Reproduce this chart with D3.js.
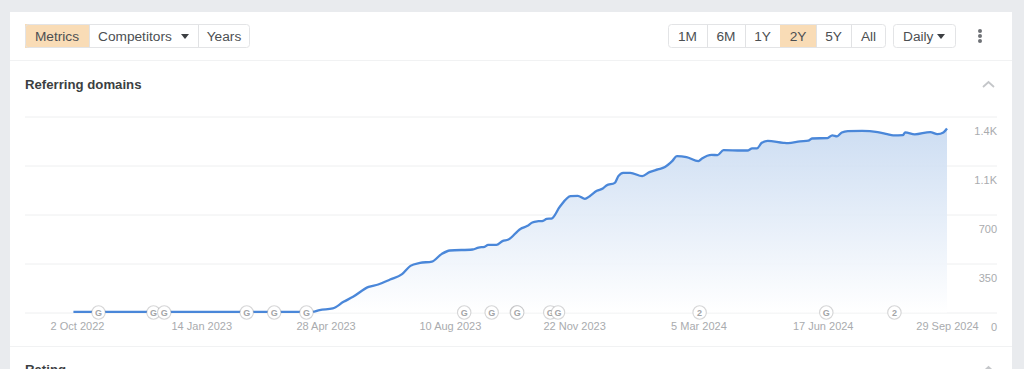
<!DOCTYPE html>
<html lang="en">
<head>
    <meta charset="UTF-8">
    <title>Referring domains</title>
    <script src="https://d3js.org/d3.v7.min.js"></script>
    <style>
        html, body { margin: 0; padding: 0; background: #e9ebee; overflow: hidden; }
        svg { display: block; font-family: "Liberation Sans", Arial, sans-serif; }
    </style>
</head>
<body>
<script type="text/javascript">
    // days since 2 Oct 2022
    var dayOffsets = [-3, 197, 203, 214, 223, 231, 244, 252, 262, 272, 279, 287, 297, 305, 312, 331, 336, 341, 344, 351,
        356, 361, 371, 377, 381, 386, 390, 393, 397, 404, 413, 419, 425, 429, 435, 440, 443, 450, 453, 457,
        463, 473, 479, 486, 492, 498, 502, 510, 520, 523, 531, 536, 541, 556, 561, 565, 569, 573, 578, 591,
        595, 605, 612, 615, 628, 632, 636, 640, 645, 657, 670, 678, 683, 691, 693, 701, 714, 720, 725, 728];
    var domains = [4, 4, 17, 29, 76, 112, 183, 200, 236, 274, 333, 354, 364, 417, 443, 450, 464, 469, 483, 483,
        510, 521, 597, 619, 643, 652, 655, 669, 671, 755, 831, 833, 812, 831, 869, 886, 907, 926, 974, 998,
        998, 974, 1003, 1022, 1039, 1081, 1117, 1110, 1081, 1100, 1126, 1124, 1160, 1157, 1157, 1172, 1172, 1212, 1226, 1212,
        1210, 1222, 1227, 1243, 1246, 1265, 1258, 1286, 1296, 1298, 1289, 1274, 1265, 1267, 1286, 1272, 1289, 1274, 1286, 1314];

    var xTickDays = [0, 104, 208, 312, 416, 520, 624, 728];
    var xTickLabels = ["2 Oct 2022", "14 Jan 2023", "28 Apr 2023", "10 Aug 2023", "22 Nov 2023", "5 Mar 2024", "17 Jun 2024", "29 Sep 2024"];
    var yTicks = [0, 350, 700, 1050, 1400];
    var yTickLabels = ["0", "350", "700", "1.1K", "1.4K"];

    var markerDays = [18, 64, 73, 142, 165, 192, 324, 347, 368, 368.4, 396, 402.5, 521, 627, 684];
    var markerLabels = ["G", "G", "G", "G", "G", "G", "G", "G", "G", "G", "G", "G", "2", "G", "2"];

    var startDate = new Date(2022, 9, 2);
    var toDate = function (d) { return d3.timeHour.offset(startDate, d * 24); };

    var svgWidth = 1024;
    var svgHeight = 369;
    var svg = d3.select("body").append("svg")
        .attr("width", svgWidth)
        .attr("height", svgHeight);

    var xScale = d3.scaleTime().domain([startDate, toDate(728)]).range([77, 947]);
    var yScale = d3.scaleLinear().domain([0, 1400]).range([312.5, 116.5]);

    // card
    svg.append("rect").attr("x", 10).attr("y", 12).attr("width", 1002).attr("height", 360).attr("fill", "#fff");
    [60.5, 346.5].forEach(function (y) {
        svg.append("line").attr("x1", 10).attr("x2", 1012).attr("y1", y).attr("y2", y).attr("stroke", "#f1f2f3");
    });

    // toolbar buttons
    var drawButtons = function (buttons) {
        var x0 = buttons[0].x0, x1 = buttons[buttons.length - 1].x1;
        buttons.forEach(function (b) {
            if (b.on) {
                svg.append("rect").attr("x", b.x0).attr("y", 24).attr("width", b.x1 - b.x0).attr("height", 24)
                    .attr("fill", "#f9dcb6");
            }
            svg.append("text").text(b.label)
                .attr("x", b.tx !== undefined ? b.tx : (b.x0 + b.x1) / 2)
                .attr("y", 40.5)
                .attr("text-anchor", b.tx !== undefined ? "start" : "middle")
                .attr("font-size", "13.7px")
                .attr("fill", "#4c4f52");
            if (b.x1 < x1) {
                svg.append("line").attr("x1", b.x1 + 0.5).attr("x2", b.x1 + 0.5).attr("y1", 24).attr("y2", 48)
                    .attr("stroke", "#e1e2e4");
            }
        });
        svg.append("rect").attr("x", x0 + 0.5).attr("y", 24.5).attr("width", x1 - x0 - 1).attr("height", 23)
            .attr("rx", 3).attr("fill", "none").attr("stroke", "#e3e4e6");
    };
    var caret = function (cx, cy) {
        svg.append("path").attr("d", "M" + (cx - 4) + "," + (cy - 2) + "h8l-4,5z").attr("fill", "#3c3f42");
    };

    drawButtons([
        {label: "Metrics", x0: 25, x1: 89, on: true},
        {label: "Competitors", x0: 89, x1: 198, tx: 98},
        {label: "Years", x0: 198, x1: 250}
    ]);
    caret(185, 36);
    drawButtons([
        {label: "1M", x0: 668, x1: 707},
        {label: "6M", x0: 707, x1: 745},
        {label: "1Y", x0: 745, x1: 780},
        {label: "2Y", x0: 780, x1: 816, on: true},
        {label: "5Y", x0: 816, x1: 851},
        {label: "All", x0: 851, x1: 886}
    ]);
    drawButtons([{label: "Daily", x0: 893, x1: 956, tx: 903}]);
    caret(941, 36);
    [31, 36, 41].forEach(function (cy) {
        svg.append("circle").attr("cx", 980).attr("cy", cy).attr("r", 2).attr("fill", "#6f7276");
    });

    // titles and chevrons
    svg.append("text").text("Referring domains").attr("x", 25).attr("y", 88.5)
        .attr("font-size", "13.2px").attr("font-weight", "bold").attr("fill", "#3c3f42");
    svg.append("text").text("Rating").attr("x", 25).attr("y", 374)
        .attr("font-size", "13.2px").attr("font-weight", "bold").attr("fill", "#3c3f42");
    [87, 372].forEach(function (y) {
        svg.append("path").attr("d", "M983," + y + "l5.5,-5l5.5,5")
            .attr("fill", "none").attr("stroke", "#c4c6c9").attr("stroke-width", 1.8);
    });

    // gradient for the area
    var gradient = svg.append("defs").append("linearGradient")
        .attr("id", "area-fill").attr("x1", 0).attr("x2", 0).attr("y1", 0).attr("y2", 1);
    gradient.append("stop").attr("offset", "0%").attr("stop-color", "#c8daf1");
    gradient.append("stop").attr("offset", "100%").attr("stop-color", "#ffffff");

    var points = dayOffsets.map(function (d, i) { return [toDate(d), domains[i]]; });

    // y axis carries the gridlines
    var yAxis = d3.axisRight(yScale)
        .tickValues(yTicks)
        .tickSize(-972)
        .tickFormat(function (d, i) { return yTickLabels[i]; });
    var yGroup = svg.append("g")
        .attr("class", "y axis")
        .attr("transform", "translate(997,0)")
        .call(yAxis);
    yGroup.select(".domain").remove();
    yGroup.selectAll("line").attr("stroke", "#eeeff0");
    yGroup.selectAll("text")
        .attr("x", 0).attr("dy", "17.5px")
        .attr("text-anchor", "end")
        .attr("font-family", "inherit")
        .attr("font-size", "11px")
        .attr("fill", "#a9abae");

    var xAxis = d3.axisBottom(xScale)
        .tickValues(xTickDays.map(toDate))
        .tickSize(0)
        .tickFormat(function (d, i) { return xTickLabels[i]; });
    var xGroup = svg.append("g")
        .attr("class", "x axis")
        .attr("transform", "translate(0,312.5)")
        .call(xAxis);
    xGroup.select(".domain").remove();
    xGroup.selectAll("text")
        .attr("y", 17.5).attr("dy", 0)
        .attr("font-family", "inherit")
        .attr("font-size", "11px")
        .attr("fill", "#a9abae");

    // area + line
    var area = d3.area()
        .x(function (d) { return xScale(d[0]); })
        .y0(yScale(0))
        .y1(function (d) { return yScale(d[1]); })
        .curve(d3.curveMonotoneX);
    svg.append("path").datum(points).attr("d", area).attr("fill", "url(#area-fill)").attr("fill-opacity", 0.9);

    var line = d3.line()
        .x(function (d) { return xScale(d[0]); })
        .y(function (d) { return yScale(d[1]); })
        .curve(d3.curveMonotoneX);
    svg.append("path").datum(points).attr("d", line)
        .attr("fill", "none").attr("stroke", "#4a87d9").attr("stroke-width", 2.3).attr("stroke-linejoin", "round");

    // update markers on the baseline
    var markers = svg.append("g").attr("class", "markers")
        .selectAll("g")
        .data(markerDays)
        .enter()
        .append("g")
        .attr("transform", function (d) { return "translate(" + xScale(toDate(d)) + "," + yScale(0) + ")"; });
    markers.append("circle")
        .attr("r", 6.7)
        .attr("fill", "#fff")
        .attr("stroke", "#8c8e91")
        .attr("stroke-opacity", 0.36)
        .attr("stroke-width", 1.1);
    markers.append("text")
        .text(function (d, i) { return markerLabels[i]; })
        .attr("text-anchor", "middle")
        .attr("y", 3.2)
        .attr("font-size", "9px")
        .attr("font-weight", "bold")
        .attr("fill", "#a3a5a8");
</script>
</body>
</html>
